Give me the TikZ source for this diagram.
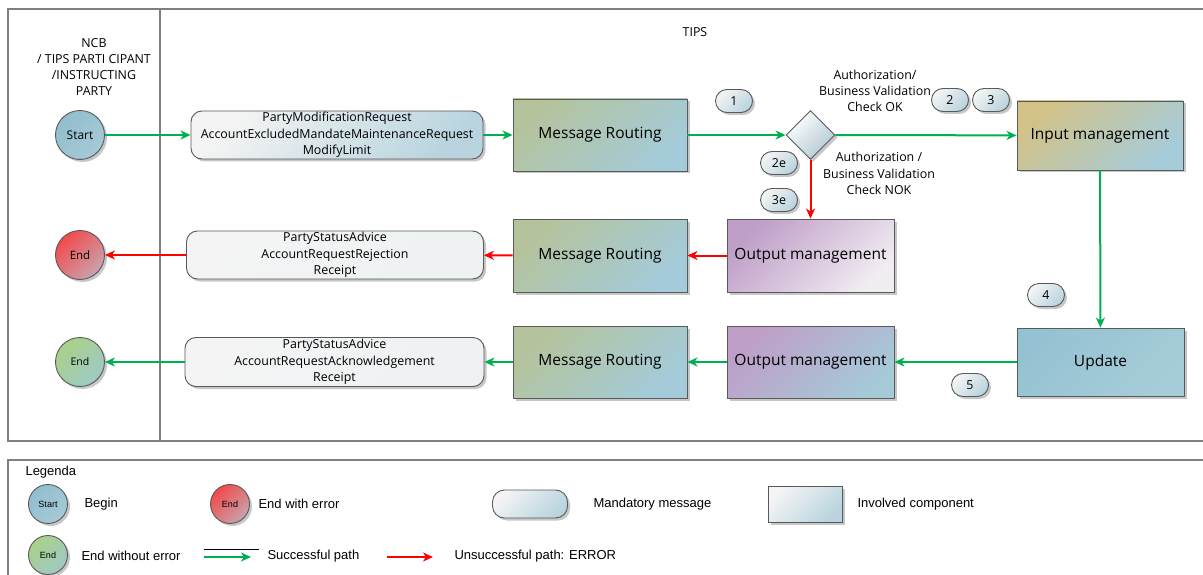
\documentclass[tikz,border=0pt]{standalone}
\usepackage{fontspec}
\setmainfont{Open Sans}
\newfontfamily\legfont{Liberation Sans}
\usetikzlibrary{arrows.meta,shapes.geometric,shadows}
\definecolor{edge}{HTML}{595959}
\definecolor{frame}{HTML}{7F7F7F}
\definecolor{okgreen}{HTML}{00B050}
\definecolor{errred}{HTML}{FF0000}
\definecolor{mrA}{HTML}{B5C39C}
\definecolor{mrB}{HTML}{A3CBD9}
\definecolor{inA}{HTML}{D2C288}
\definecolor{inB}{HTML}{A6CCD9}
\definecolor{omA}{HTML}{BF9EC8}
\definecolor{omB}{HTML}{F0ECF1}
\definecolor{omC}{HTML}{A6C9D8}
\definecolor{upA}{HTML}{95C2D2}
\definecolor{upB}{HTML}{A6CCD8}
\definecolor{msA}{HTML}{F4F4F4}
\definecolor{msB}{HTML}{B9D4DE}
\definecolor{msC}{HTML}{EEF2F3}
\definecolor{stA}{HTML}{92BECE}
\definecolor{stB}{HTML}{A6CAD6}
\definecolor{erA}{HTML}{F24A4A}
\definecolor{erB}{HTML}{C9A3AE}
\definecolor{egA}{HTML}{A9D187}
\definecolor{egB}{HTML}{9EC9C6}
\begin{document}
\begin{tikzpicture}[x=1pt,y=-1pt,
  shadowed/.style={drop shadow={shadow xshift=2.5pt,shadow yshift=-2.5pt,fill=black!22,opacity=1}},
  comp/.style={draw=edge,line width=0.9pt,inner sep=0pt,shadowed,font=\fontsize{15.5}{17}\selectfont},
  msgbox/.style={draw=edge,line width=0.9pt,rounded corners=11pt,inner sep=0pt,align=center,shadowed,
     font=\fontsize{12.4}{16.5}\selectfont},
  badge/.style={draw=edge,line width=0.9pt,rounded corners=11.5pt,minimum width=37pt,minimum height=23pt,
     inner sep=0pt,shadowed,left color=msA,right color=msB,shading angle=45,font=\fontsize{12.4}{13}\selectfont},
  circ/.style={circle,draw=edge,line width=0.9pt,inner sep=0pt,shadowed},
  garrow/.style={draw=okgreen,line width=2pt,-{Stealth[length=10pt,width=9pt,inset=3pt]}},
  rarrow/.style={draw=errred,line width=2pt,-{Stealth[length=10pt,width=9pt,inset=3pt]}},
  lbl/.style={align=center,font=\fontsize{12.4}{16.3}\selectfont},
  leg/.style={anchor=west,font=\legfont\fontsize{13}{15}\selectfont}
]
\useasboundingbox (0,0) rectangle (1203,575);
% frames
\draw[frame,line width=1.2pt] (1203,9) -- (8,9) -- (8,441) -- (1203,441);
\draw[frame,line width=1.2pt] (160,9) -- (160,441);
\draw[frame,line width=1.2pt] (8,575) -- (8,460) -- (1203,460);

\node[lbl] (ncb) at (94,67) {NCB\\/ TIPS PARTI CIPANT\\/INSTRUCTING\\PARTY};
\node[lbl] (tips) at (695,32) {TIPS};

% row 1
\node[circ,minimum size=49pt,left color=stA,right color=stB,shading angle=45,font=\fontsize{12}{13}\selectfont] (start) at (80,135) {Start};
\node[msgbox,minimum width=292pt,minimum height=48pt,left color=msA,right color=msB,shading angle=45] (msg1) at (337,135)
  {PartyModificationRequest\\AccountExcludedMandateMaintenanceRequest\\ModifyLimit};
\node[comp,minimum width=174pt,minimum height=72pt,left color=mrA,right color=mrB,shading angle=45] (mr1) at (600,135) {Message Routing};
\node[diamond,draw=edge,line width=0.9pt,minimum width=49pt,minimum height=49pt,inner sep=0pt,shadowed,
  left color=white,right color=msB!85!gray,shading angle=45] (dia) at (810.5,135) {};
\node[comp,minimum width=166pt,minimum height=69pt,left color=inA,right color=inB,shading angle=45] (inm) at (1100,135.5) {Input management};

\node[badge] (b1) at (734,101) {1};
\node[badge] (b2e) at (779,163) {2e};
\node[badge] (b3e) at (779,200) {3e};
\node[badge] (b2) at (950,100) {2};
\node[badge] (b3) at (991,100) {3};
\node[badge] (b4) at (1046,295) {4};
\node[badge] (b5) at (970,385) {5};

\node[lbl] (okl) at (875,91) {Authorization/\\Business Validation\\Check OK};
\node[lbl] (nokl) at (879,173.5) {Authorization /\\Business Validation\\Check NOK};

% row 2
\node[circ,minimum size=49pt,left color=erA,right color=erB,shading angle=45,font=\fontsize{11.5}{13}\selectfont] (endr) at (80,255) {End};
\node[msgbox,minimum width=297pt,minimum height=48pt,left color=msA,right color=msC,shading angle=45] (msg2) at (335,255)
  {PartyStatusAdvice\\AccountRequestRejection\\Receipt};
\node[comp,minimum width=174pt,minimum height=73pt,left color=mrA,right color=mrB,shading angle=45] (mr2) at (600,255.5) {Message Routing};
\node[comp,minimum width=167pt,minimum height=73pt,left color=omA,right color=omB,shading angle=45] (om1) at (810.5,255.5) {Output management};

% row 3
\node[circ,minimum size=49pt,left color=egA,right color=egB,shading angle=45,font=\fontsize{10.5}{12}\selectfont] (endg) at (80,362) {End};
\node[msgbox,minimum width=299pt,minimum height=49pt,left color=msA,right color=msC,shading angle=45] (msg3) at (334.5,362)
  {PartyStatusAdvice\\AccountRequestAcknowledgement\\Receipt};
\node[comp,minimum width=174pt,minimum height=72pt,left color=mrA,right color=mrB,shading angle=45] (mr3) at (600,362) {Message Routing};
\node[comp,minimum width=167pt,minimum height=72pt,left color=omA,right color=omC,shading angle=45] (om2) at (810.5,362) {Output management};
\node[comp,minimum width=167pt,minimum height=68pt,left color=upA,right color=upB,shading angle=45] (upd) at (1100.5,362) {Update};

% connectors
\draw[garrow] (start) -- (msg1);
\draw[garrow] (msg1) -- (mr1);
\draw[garrow] (mr1) -- (dia);
\draw[garrow] (dia) -- (inm);
\draw[rarrow] (dia) -- (om1);
\draw[garrow] (inm) -- (upd);
\draw[garrow] (upd) -- (om2);
\draw[garrow] (om2) -- (mr3);
\draw[garrow] (mr3) -- (msg3);
\draw[garrow] (msg3) -- (endg);
\draw[rarrow] (om1) -- (mr2);
\draw[rarrow] (mr2) -- (msg2);
\draw[rarrow] (msg2) -- (endr);

% legend
\node[leg] (legt) at (22,472) {Legenda};
\node[circ,minimum size=39pt,left color=stA,right color=stB,shading angle=45,font=\legfont\fontsize{9}{10}\selectfont] (lstart) at (48,504) {Start};
\node[leg] (lbeg) at (81,504) {Begin};
\node[circ,minimum size=39pt,left color=erA,right color=erB,shading angle=45,font=\legfont\fontsize{9}{10}\selectfont] (lendr) at (230,504) {End};
\node[leg] (lendrt) at (255,504) {End with error};
\node[draw=edge,line width=0.9pt,rounded corners=12pt,minimum width=75pt,minimum height=28pt,shadowed,
  left color=msA,right color=msB,shading angle=45] (lmsg) at (530,504) {};
\node[leg] (lmsgt) at (590,504) {Mandatory message};
\node[draw=edge,line width=0.9pt,minimum width=74pt,minimum height=36pt,shadowed,
  left color=msA,right color=msB,shading angle=45] (lcomp) at (805,504.5) {};
\node[leg] (lcompt) at (854,504) {Involved component};
\node[circ,minimum size=39pt,left color=egA,right color=egB,shading angle=45,font=\legfont\fontsize{9}{10}\selectfont] (lendg) at (48,555) {End};
\node[leg] (lendgt) at (78,556) {End without error};
\coordinate (lg1) at (204,557);
\coordinate (lg2) at (251,557);
\draw[black,line width=0.8pt] (204,549) -- (259,549);
\draw[garrow] (lg1) -- (lg2);
\node[leg] (lgt) at (264,556) {Successful path};
\coordinate (lr1) at (387,557);
\coordinate (lr2) at (433,557);
\draw[rarrow] (lr1) -- (lr2);
\node[leg] (lrt) at (451,556) {Unsuccessful path: ERROR};
\end{tikzpicture}
\end{document}
